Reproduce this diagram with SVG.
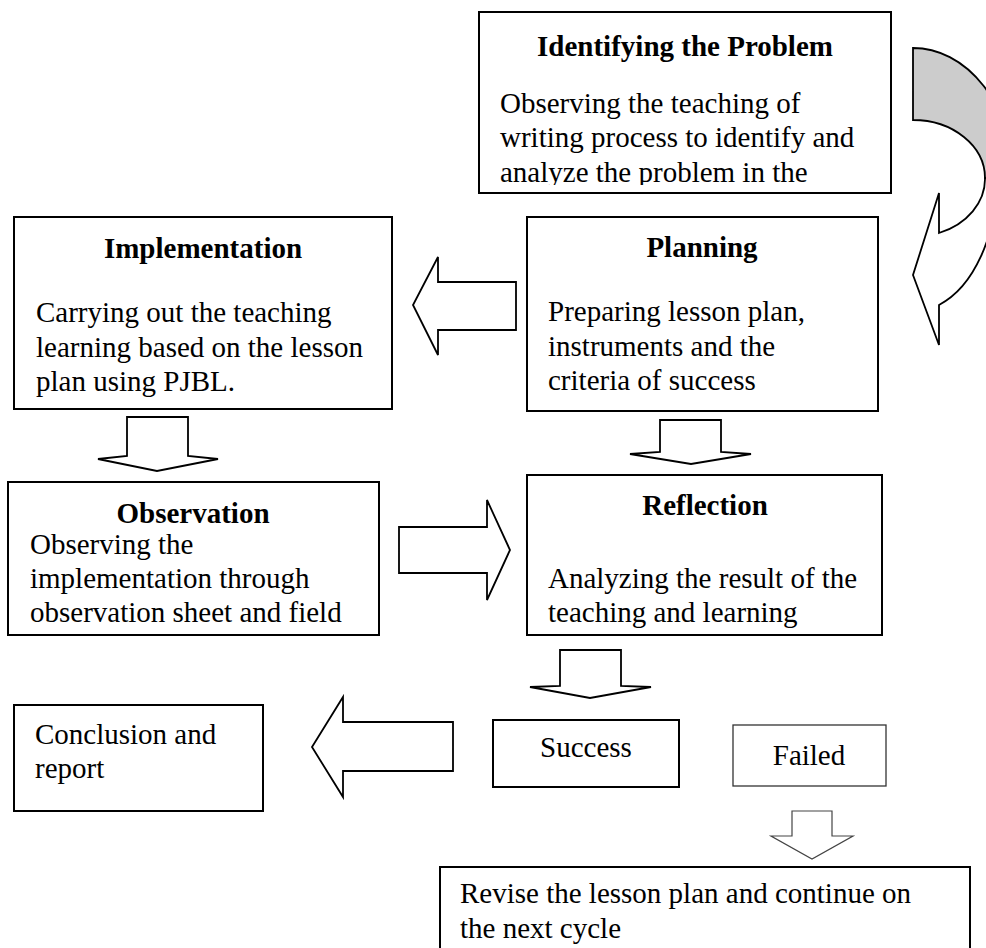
<svg xmlns="http://www.w3.org/2000/svg" width="986" height="948" viewBox="0 0 986 948">
<style>
  .box { fill: #ffffff; stroke: #000000; stroke-width: 2; }
  .thin { fill: #ffffff; stroke: #333333; stroke-width: 1.3; }
  .t { font-family: "Liberation Serif", "Times New Roman", serif; font-size: 29px; fill: #000000; }
  .b { font-weight: bold; }
  .arr { fill: #ffffff; stroke: #000000; stroke-width: 1.8; stroke-linejoin: miter; }
  .arrthin { fill: #ffffff; stroke: #444444; stroke-width: 1.2; }
</style>
<defs>
  <clipPath id="clipId">
    <rect x="479" y="12" width="412" height="173"/>
  </clipPath>
</defs>
<rect width="986" height="948" fill="#ffffff"/>

<g id="connectors">
  <path class="arr" d="M516,282 L438,282 L438,257 L413,305 L438,355 L438,330 L516,330 Z"/>
  <path class="arr" d="M127,417 L188,417 L188,456 L218,459 L157,471 L98,459 L127,456 Z"/>
  <path class="arr" d="M660,420 L721,420 L721,452 L751,454 L691,464 L630,454 L660,452 Z"/>
  <path class="arr" d="M399,527 L487,527 L487,500 L510,550 L487,600 L487,573 L399,573 Z"/>
  <path class="arr" d="M560,650 L621,650 L621,686 L651,687 L590,698 L530,687 L560,686 Z"/>
  <path class="arr" d="M453,722 L343,722 L343,697 L312,747 L343,797 L343,771 L453,771 Z"/>
  <path class="arrthin" d="M792,811 L832,811 L832,836 L853,836 L812,859 L771,836 L792,836 Z"/>
  <g id="curved-arrow">
    <path d="M913,48 A100,130 0 0 1 1013,178 L985,178 A72,58 0 0 0 913,120 Z" fill="#cccccc" stroke="#000000" stroke-width="1.8"/>
    <path d="M985,178 A72,58 0 0 1 939,233 L939,193 L913,275 L939,345 L939,305 A84,134 0 0 0 997,178 Z" fill="#ffffff" stroke="#000000" stroke-width="1.8"/>
  </g>
</g>

<g id="identifying">
  <rect class="box" x="479" y="12" width="412" height="181"/>
  <text class="t b" x="685" y="56" text-anchor="middle">Identifying the Problem</text>
  <g clip-path="url(#clipId)">
    <text class="t" x="500" y="113">Observing the teaching of</text>
    <text class="t" x="500" y="147">writing process to identify and</text>
    <text class="t" x="500" y="182">analyze the problem in the</text>
  </g>
</g>

<g id="implementation">
  <rect class="box" x="14" y="217" width="378" height="192"/>
  <text class="t b" x="203" y="258" text-anchor="middle">Implementation</text>
  <text class="t" x="36" y="322">Carrying out the teaching</text>
  <text class="t" x="36" y="357">learning based on the lesson</text>
  <text class="t" x="36" y="391">plan using PJBL.</text>
</g>

<g id="planning">
  <rect class="box" x="527" y="217" width="351" height="194"/>
  <text class="t b" x="702" y="257" text-anchor="middle">Planning</text>
  <text class="t" x="548" y="321">Preparing lesson plan,</text>
  <text class="t" x="548" y="356">instruments and the</text>
  <text class="t" x="548" y="390">criteria of success</text>
</g>

<g id="observation">
  <rect class="box" x="8" y="482" width="371" height="153"/>
  <text class="t b" x="193" y="523" text-anchor="middle">Observation</text>
  <text class="t" x="30" y="554">Observing the</text>
  <text class="t" x="30" y="588">implementation through</text>
  <text class="t" x="30" y="622">observation sheet and field</text>
</g>

<g id="reflection">
  <rect class="box" x="527" y="475" width="355" height="160"/>
  <text class="t b" x="705" y="515" text-anchor="middle">Reflection</text>
  <text class="t" x="548" y="588">Analyzing the result of the</text>
  <text class="t" x="548" y="622">teaching and learning</text>
</g>

<g id="conclusion">
  <rect class="box" x="14" y="705" width="249" height="106"/>
  <text class="t" x="35" y="744">Conclusion and</text>
  <text class="t" x="35" y="778">report</text>
</g>

<g id="success">
  <rect class="box" x="493" y="720" width="186" height="67"/>
  <text class="t" x="586" y="757" text-anchor="middle">Success</text>
</g>

<g id="failed">
  <rect class="thin" x="733" y="725" width="153" height="61"/>
  <text class="t" x="809" y="765" text-anchor="middle">Failed</text>
</g>

<g id="revise">
  <rect class="box" x="440" y="867" width="530" height="90"/>
  <text class="t" x="460" y="903">Revise the lesson plan and continue on</text>
  <text class="t" x="460" y="938">the next cycle</text>
</g>
</svg>
